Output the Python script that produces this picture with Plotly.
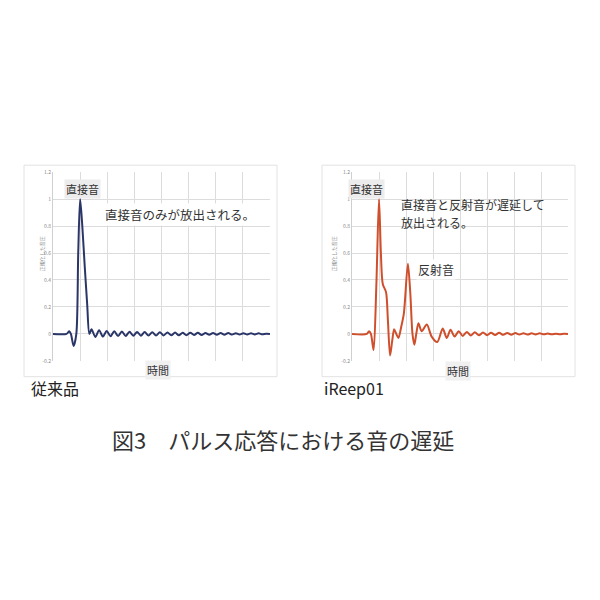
import plotly.graph_objects as go

# ---------------- data ----------------
conv_x = [0, 0.5, 0.6, 0.66, 0.76, 0.86, 0.93, 1.0, 1.08, 1.17, 1.26, 1.34,
          1.42, 1.56, 1.70, 1.84, 1.98, 2.12, 2.26, 2.40, 2.54, 2.68, 2.82, 2.96,
          3.10, 3.24, 3.38, 3.52, 3.66, 3.80, 3.94, 4.08, 4.22, 4.36, 4.50, 4.64,
          4.78, 4.92, 5.06, 5.20, 5.34, 5.48, 5.62, 5.76, 5.90, 6.04, 6.18, 6.32,
          6.46, 6.60, 6.74, 6.88, 7.02, 7.16, 7.30, 7.44, 7.58, 7.72, 7.86, 8.0]
conv_y = [0, 0, 0.02, 0.0, -0.09, 0.0, 0.6, 1.0, 0.8, 0.5, 0.22, 0.0,
          0.035, -0.022, 0.028, -0.02, 0.022, -0.018, 0.02, -0.016, 0.018, -0.015, 0.016, -0.014,
          0.015, -0.013, 0.014, -0.012, 0.013, -0.012, 0.012, -0.011, 0.011, -0.01, 0.01, -0.01,
          0.009, -0.009, 0.009, -0.008, 0.008, -0.008, 0.007, -0.007, 0.007, -0.006, 0.006, -0.006,
          0.006, -0.005, 0.005, -0.005, 0.005, -0.004, 0.004, -0.004, 0.004, -0.003, 0.002, 0.0]

ireep_x = [0, 0.55, 0.63, 0.7, 0.8, 0.9, 1.0, 1.07, 1.14, 1.26, 1.33, 1.41,
           1.49, 1.56, 1.64, 1.72, 1.82, 1.92, 2.07, 2.16, 2.24, 2.31, 2.38, 2.46,
           2.58, 2.77, 2.95, 3.16, 3.36, 3.51, 3.65, 3.80, 3.95, 4.10, 4.25, 4.40,
           4.55, 4.70, 4.85, 5.00, 5.15, 5.30, 5.45, 5.60, 5.75, 5.90, 6.05, 6.20,
           6.35, 6.50, 6.65, 6.80, 6.95, 7.10, 7.25, 7.40, 7.55, 7.70, 7.85, 8.0]
ireep_y = [0, 0, 0.02, 0.0, -0.12, 0.35, 1.0, 0.6, 0.37, 0.31, 0.1, -0.16,
           -0.05, 0.035, 0.0, -0.03, 0.05, 0.15, 0.52, 0.3, 0.0, -0.08, 0.0, 0.08,
           0.02, 0.07, -0.02, -0.06, 0.04, -0.03, 0.03, -0.02, 0.02, -0.015, 0.015, -0.012,
           0.012, -0.01, 0.01, -0.009, 0.009, -0.008, 0.008, -0.007, 0.007, -0.006, 0.006, -0.005,
           0.005, -0.005, 0.004, -0.004, 0.004, -0.003, 0.003, -0.003, 0.002, -0.002, 0.001, 0.0]

y_ticks = [-0.2, 0, 0.2, 0.4, 0.6, 0.8, 1, 1.2]
y_tick_text = ["-0.2", "0", "0.2", "0.4", "0.6", "0.8", "1", "1.2"]

FONT = "Noto Sans CJK JP"
W = H = 600
OFF = 8  # browser body margin


def px(x):
    return (x - OFF) / W


def py(y):
    return 1 - (y - OFF) / H


fig = go.Figure()
fig.add_trace(go.Scatter(x=conv_x, y=conv_y, mode="lines",
                         line=dict(color="#2b3668", width=2, shape="spline", smoothing=0.8),
                         xaxis="x", yaxis="y", showlegend=False, hoverinfo="skip"))
fig.add_trace(go.Scatter(x=ireep_x, y=ireep_y, mode="lines",
                         line=dict(color="#cf4f2c", width=2, shape="spline", smoothing=0.8),
                         xaxis="x2", yaxis="y2", showlegend=False, hoverinfo="skip"))

xax = dict(range=[0, 8], dtick=1, showgrid=True, gridcolor="#dcdcdc", gridwidth=1,
           showticklabels=False, zeroline=False, showline=False, ticks="")
yax = dict(range=[-0.2, 1.2], tickvals=y_ticks, ticktext=y_tick_text, showgrid=True,
           gridcolor="#dcdcdc", gridwidth=1, zeroline=False, showline=True,
           linecolor="#cfcfcf", linewidth=1, ticks="",
           tickfont=dict(family=FONT, size=5, color="#888888"))

fig.update_layout(
    width=W, height=H, margin=dict(l=0, r=0, t=0, b=0),
    paper_bgcolor="white", plot_bgcolor="white",
    xaxis=dict(xax, domain=[px(53), px(270)], anchor="y"),
    yaxis=dict(yax, domain=[py(361), py(170)], anchor="x"),
    xaxis2=dict(xax, domain=[px(352), px(568)], anchor="y2"),
    yaxis2=dict(yax, domain=[py(361), py(170)], anchor="x2"),
    font=dict(family=FONT),
)

# chart frames
for x0, x1 in [(24, 277), (322, 575)]:
    fig.add_shape(type="rect", xref="paper", yref="paper",
                  x0=px(x0), x1=px(x1), y0=py(377), y1=py(163),
                  line=dict(color="#e2e2e2", width=1), layer="below")

ann = []


def add_text(text, x, y, size, color="#333333", bg=None, xanchor="center", align="center",
             pad=1):
    ann.append(dict(text=text, x=px(x), y=py(y), xref="paper", yref="paper",
                    xanchor=xanchor, yanchor="middle", showarrow=False, align=align,
                    font=dict(family=FONT, size=size, color=color),
                    bgcolor=bg, borderpad=pad))


# left chart texts
add_text("直接音", 82, 187, 11, bg="#ececec")
add_text("直接音のみが放出される。", 180, 213, 12.5, bg="white")
add_text("時間", 158, 370, 11, bg="#f0f0f0")
add_text("従来品", 29, 388, 16, color="#222222", xanchor="left")
# right chart texts
add_text("直接音", 366, 187, 11, bg="#ececec")
add_text("直接音と反射音が遅延して", 400, 203, 12, xanchor="left", pad=0)
add_text("放出される。", 400, 221, 12, xanchor="left", pad=0)
add_text("反射音", 436, 269, 12, bg="white")
add_text("時間", 458, 371, 11, bg="#f0f0f0")
add_text("iReep01", 322, 388, 16, color="#222222", xanchor="left")
# y axis titles
for xx in (36, 334):
    ann.append(dict(text="正規化した音圧", x=px(xx), y=py(253), xref="paper", yref="paper",
                    showarrow=False, textangle=-90,
                    font=dict(family=FONT, size=5, color="#888888")))
# main caption
add_text("図3　パルス応答における音の遅延", 283, 440, 22, color="#333333")

fig.update_layout(annotations=ann)
fig.write_html("out.html")
